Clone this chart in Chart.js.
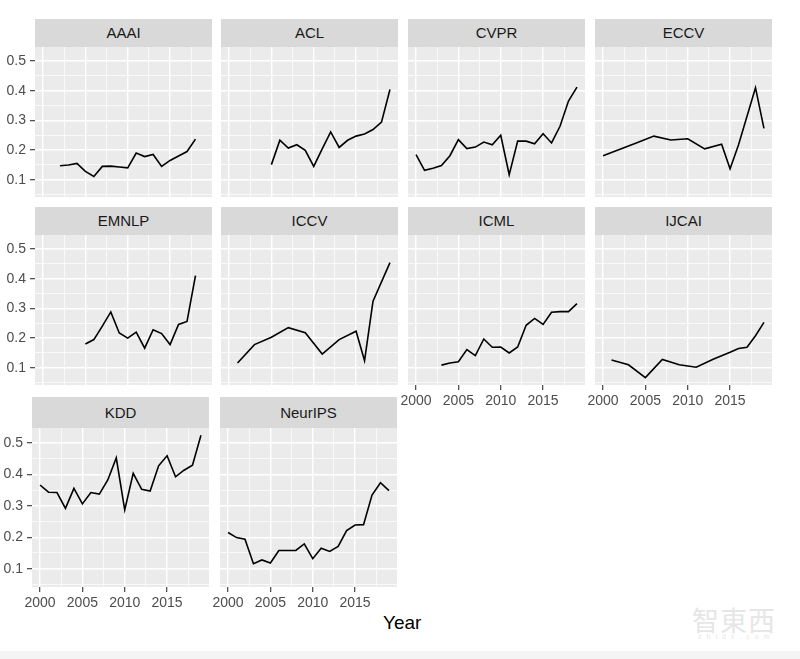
<!DOCTYPE html>
<html>
<head>
<meta charset="utf-8">
<script src="https://cdn.jsdelivr.net/npm/chart.js@4"></script>
<style>
  body { margin: 0; background: #fff; }
  #wrap { position: relative; width: 800px; height: 659px; overflow: hidden; background: #fff; font-family: "Liberation Sans", Arial, sans-serif; }
  .panel { position: absolute; }
  .strip { position: absolute; background: #d9d9d9; color: #1a1a1a; font-size: 15px; text-align: center; }
  .xtitle { position: absolute; left: 383px; top: 612px; font-size: 19px; color: #000; }
  .mark { position: absolute; left: 692px; top: 600px; color: #e6e6e6; font-family: "Noto Sans CJK SC", sans-serif; font-size: 27px; letter-spacing: 1px; }
  .mark small { display: block; font-family: "Liberation Sans", sans-serif; font-size: 7px; letter-spacing: 5px; margin-top: -6px; padding-left: 6px; }
  .band { position: absolute; left: 0; top: 651px; width: 800px; height: 8px; background: #f4f4f4; }
</style>
</head>
<body>
<div id="wrap">
  <div class="xtitle">Year</div>
  <div class="mark">智東西<small>zhidx.com</small></div>
  <div class="band"></div>
</div>
<script>
// share of papers per year, one array per conference (null = no value)
const years = [2000, 2001, 2002, 2003, 2004, 2005, 2006, 2007, 2008, 2009,
               2010, 2011, 2012, 2013, 2014, 2015, 2016, 2017, 2018, 2019];

const aaai    = [null, null, 0.147, 0.150, 0.155, 0.128, 0.111, 0.145, 0.146, 0.143, 0.140, 0.190, 0.178, 0.185, 0.145, 0.165, 0.180, 0.195, 0.237, null];
const acl     = [null, null, null, null, null, 0.151, 0.233, 0.207, 0.218, 0.199, 0.145, 0.204, 0.261, 0.209, 0.233, 0.247, 0.254, 0.269, 0.294, 0.404];
const cvpr    = [0.185, 0.132, 0.139, 0.148, 0.181, 0.235, 0.205, 0.210, 0.227, 0.218, 0.250, 0.117, 0.230, 0.230, 0.221, 0.255, 0.224, 0.280, 0.365, 0.412];
const eccv    = [0.181, null, 0.203, null, 0.225, null, 0.247, null, 0.234, null, 0.238, null, 0.204, null, 0.220, 0.137, 0.218, null, 0.410, 0.273];
const emnlp   = [null, null, null, null, null, 0.180, 0.195, 0.240, 0.288, 0.217, 0.200, 0.220, 0.166, 0.228, 0.215, 0.178, 0.246, 0.256, 0.410, null];
const iccv    = [null, 0.116, null, 0.178, null, 0.203, null, 0.235, null, 0.218, null, 0.146, null, 0.195, null, 0.223, 0.124, 0.324, null, 0.454];
const icml    = [null, null, null, 0.109, 0.116, 0.120, 0.161, 0.141, 0.197, 0.169, 0.170, 0.150, 0.170, 0.243, 0.266, 0.246, 0.287, 0.289, 0.289, 0.316];
const ijcai   = [null, 0.126, null, 0.110, null, 0.067, null, 0.128, null, 0.110, null, 0.102, null, 0.129, null, 0.152, 0.165, 0.169, 0.208, 0.253];
const kdd     = [0.366, 0.343, 0.342, 0.292, 0.355, 0.306, 0.342, 0.337, 0.382, 0.452, 0.287, 0.403, 0.352, 0.347, 0.427, 0.459, 0.392, 0.413, 0.429, 0.524];
const neurips = [0.215, 0.199, 0.194, 0.116, 0.128, 0.118, 0.158, 0.158, 0.158, 0.179, 0.132, 0.165, 0.155, 0.171, 0.221, 0.239, 0.240, 0.334, 0.373, 0.348];

const panelNames = ['AAAI', 'ACL', 'CVPR', 'ECCV', 'EMNLP', 'ICCV', 'ICML', 'IJCAI', 'KDD', 'NeurIPS'];
const panelData  = [aaai, acl, cvpr, eccv, emnlp, iccv, icml, ijcai, kdd, neurips];

// major + minor breaks like ggplot
const yBreaks = [0.05, 0.1, 0.15, 0.2, 0.25, 0.3, 0.35, 0.4, 0.45, 0.5];
const xBreaks = [2000, 2002.5, 2005, 2007.5, 2010, 2012.5, 2015, 2017.5];

Chart.defaults.font.family = '"Liberation Sans", Arial, sans-serif';
Chart.defaults.animation = false;

// layout of the facet grid (plot area boxes)
const rows = [
    { stripTop: 19,  top: 47,  height: 150, lefts: [35, 221, 408, 595] },
    { stripTop: 207, top: 235, height: 150, lefts: [35, 221, 408, 595] },
    { stripTop: 397, top: 428, height: 159, lefts: [32, 220] }
];
const plotW = 177;

const panelBg = {
    id: 'panelBg',
    beforeDraw(chart) {
        const a = chart.chartArea;
        chart.ctx.save();
        chart.ctx.fillStyle = '#ebebeb';
        chart.ctx.fillRect(a.left, a.top, a.width, a.height);
        chart.ctx.restore();
    }
};

function isMajorY(v) { return Math.abs(v * 10 - Math.round(v * 10)) < 1e-6; }
function isMajorX(v) { return v % 5 === 0; }

// fixed axis size, no extra label padding, so the plot box stays put
function fixSize(prop, size) {
    return (scale) => {
        scale[prop] = size;
        scale.paddingTop = 0;
        scale.paddingBottom = 0;
        scale.paddingLeft = 0;
        scale.paddingRight = 0;
    };
}

function makePanel(i) {
    const r = Math.floor(i / 4), c = i % 4;
    const row = rows[r];
    const left = row.lefts[c];
    const showY = c === 0;
    const showX = r === 2 || (r === 1 && c >= 2);
    // room on the left for y labels, or for the half of the "2000" label
    const padL = showY ? left : (showX ? 16 : 0);
    const padB = showX ? 28 : 0;

    const wrap = document.getElementById('wrap');

    const strip = document.createElement('div');
    strip.className = 'strip';
    strip.style.left = left + 'px';
    strip.style.top = row.stripTop + 'px';
    strip.style.width = plotW + 'px';
    strip.style.height = (row.top - row.stripTop) + 'px';
    strip.style.lineHeight = (row.top - row.stripTop) + 'px';
    strip.textContent = panelNames[i];
    wrap.appendChild(strip);

    const box = document.createElement('div');
    box.className = 'panel';
    box.style.left = (left - padL) + 'px';
    box.style.top = row.top + 'px';
    box.style.width = (plotW + padL) + 'px';
    box.style.height = (row.height + padB) + 'px';
    const canvas = document.createElement('canvas');
    box.appendChild(canvas);
    wrap.appendChild(box);

    const values = panelData[i];
    const points = years.map((y, k) => ({ x: y, y: values[k] })).filter(p => p.y !== null);

    new Chart(canvas.getContext('2d'), {
        type: 'line',
        data: {
            datasets: [{
                label: panelNames[i],
                data: points,
                borderColor: '#000000',
                borderWidth: 1.6,
                pointRadius: 0,
                tension: 0
            }]
        },
        options: {
            responsive: true,
            maintainAspectRatio: false,
            layout: { padding: 0 },
            plugins: {
                legend: { display: false },
                tooltip: { enabled: false }
            },
            scales: {
                x: {
                    type: 'linear',
                    min: 1999.05,
                    max: 2019.95,
                    afterBuildTicks: (scale) => { scale.ticks = xBreaks.map(v => ({ value: v })); },
                    afterFit: fixSize('height', padB),
                    border: { display: false },
                    grid: {
                        color: '#ffffff',
                        lineWidth: (ctx) => (ctx.tick && isMajorX(ctx.tick.value)) ? 1.4 : 0.7,
                        drawTicks: showX,
                        tickLength: 5,
                        tickWidth: 1.1,
                        tickColor: (ctx) => (ctx.tick && isMajorX(ctx.tick.value)) ? '#333333' : 'rgba(0,0,0,0)'
                    },
                    ticks: {
                        display: showX,
                        autoSkip: false,
                        maxRotation: 0,
                        padding: 3,
                        color: '#4d4d4d',
                        font: { size: 14 },
                        callback: (v) => isMajorX(v) ? String(v) : ''
                    }
                },
                y: {
                    type: 'linear',
                    min: 0.042,
                    max: 0.547,
                    afterBuildTicks: (scale) => { scale.ticks = yBreaks.map(v => ({ value: v })); },
                    afterFit: fixSize('width', padL),
                    border: { display: false },
                    grid: {
                        color: '#ffffff',
                        lineWidth: (ctx) => (ctx.tick && isMajorY(ctx.tick.value)) ? 1.4 : 0.7,
                        drawTicks: showY,
                        tickLength: 5,
                        tickWidth: 1.1,
                        tickColor: (ctx) => (ctx.tick && isMajorY(ctx.tick.value)) ? '#333333' : 'rgba(0,0,0,0)'
                    },
                    ticks: {
                        display: showY,
                        autoSkip: false,
                        padding: 4,
                        color: '#4d4d4d',
                        font: { size: 14 },
                        callback: (v) => isMajorY(v) ? v.toFixed(1) : ''
                    }
                }
            }
        },
        plugins: [panelBg]
    });
}

panelNames.forEach((name, i) => makePanel(i));
</script>
</body>
</html>
